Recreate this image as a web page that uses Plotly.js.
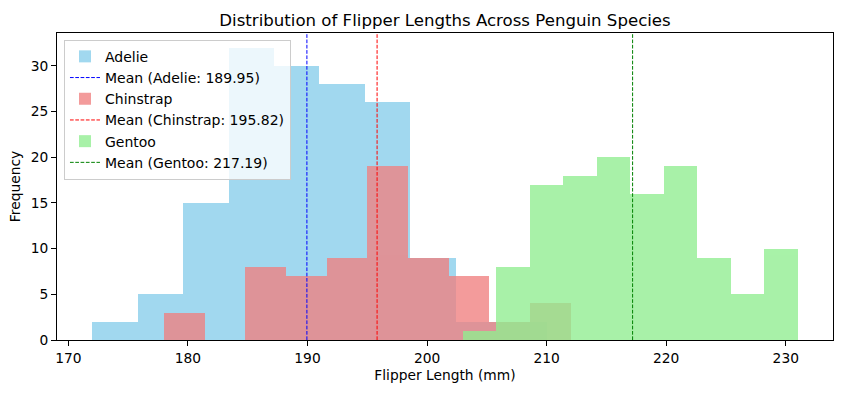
<!DOCTYPE html>
<html>
<head>
<meta charset="utf-8">
<script src="https://cdn.plot.ly/plotly-3.0.1.min.js"></script>
<style>html,body{margin:0;padding:0;background:#fff;}#chart{width:841px;height:393px;}</style>
</head>
<body>
<div id="chart"></div>
<script>
// Histogram bins (10 bins per species)
const species = ["Adelie", "Chinstrap", "Gentoo"];
const adelieBinStart = 172, adelieBinWidth = 3.8;
const adelieCounts = [2, 5, 15, 32, 30, 28, 26, 9, 2, 2];
const chinstrapBinStart = 178, chinstrapBinWidth = 3.4;
const chinstrapCounts = [3, 0, 8, 7, 9, 19, 9, 7, 2, 4];
const gentooBinStart = 203, gentooBinWidth = 2.8;
const gentooCounts = [1, 8, 17, 18, 20, 16, 19, 9, 5, 10];
const means = [189.95, 195.82, 217.19];
const xTicks = [170, 180, 190, 200, 210, 220, 230];
const yTicks = [0, 5, 10, 15, 20, 25, 30];

const barColors = ["skyblue", "lightcoral", "lightgreen"];
const lineColors = ["blue", "red", "green"];
const starts = [adelieBinStart, chinstrapBinStart, gentooBinStart];
const widths = [adelieBinWidth, chinstrapBinWidth, gentooBinWidth];
const counts = [adelieCounts, chinstrapCounts, gentooCounts];

const yMax = 33.6;
const traces = [];
species.forEach((sp, i) => {
  const centers = counts[i].map((_, k) => starts[i] + widths[i] * (k + 0.5));
  traces.push({
    type: "bar", name: sp, x: centers, y: counts[i], width: widths[i],
    marker: {color: barColors[i], line: {width: 0}}, opacity: 0.78,
    hoverinfo: "x+y"
  });
  traces.push({
    type: "scatter", mode: "lines", name: "Mean (" + sp + ": " + means[i].toFixed(2) + ")",
    x: [means[i], means[i]], y: [0, yMax],
    line: {color: lineColors[i], width: 1, dash: "3.7px,1.6px"}
  });
});

const font = {family: "DejaVu Sans, sans-serif", size: 13.8, color: "#000"};
const layout = {
  width: 841, height: 393,
  margin: {l: 57, r: 8, t: 33, b: 53},
  paper_bgcolor: "#fff", plot_bgcolor: "#fff",
  font: font,
  barmode: "overlay", bargap: 0,
  showlegend: true,
  title: {text: "Distribution of Flipper Lengths Across Penguin Species",
          font: {family: "DejaVu Sans, sans-serif", size: 16.6, color: "#000"},
          x: 0.5, xref: "paper", xanchor: "center", y: 1, yref: "paper", yanchor: "bottom", pad: {b: 7}},
  xaxis: {range: [169.05, 233.95], tickvals: xTicks, ticktext: xTicks.map(String),
          ticks: "outside", ticklen: 5, tickwidth: 1, tickcolor: "#000",
          showline: true, linecolor: "#000", linewidth: 1, mirror: true,
          showgrid: false, zeroline: false,
          title: {text: "Flipper Length (mm)", font: font, standoff: 5}},
  yaxis: {range: [0, yMax], tickvals: yTicks, ticktext: yTicks.map(String),
          ticks: "outside", ticklen: 5, tickwidth: 1, tickcolor: "#000",
          showline: true, linecolor: "#000", linewidth: 1, mirror: true,
          showgrid: false, zeroline: false,
          title: {text: "Frequency", font: font, standoff: 6}},
  legend: {x: 0.009, y: 0.978, xanchor: "left", yanchor: "top",
           bgcolor: "rgba(255,255,255,0.8)", bordercolor: "#cccccc", borderwidth: 1,
           font: {family: "DejaVu Sans, sans-serif", size: 14, color: "#000"},
           traceorder: "normal", itemwidth: 30}
};
Plotly.newPlot("chart", traces, layout, {displayModeBar: false, staticPlot: true});
</script>
</body>
</html>
